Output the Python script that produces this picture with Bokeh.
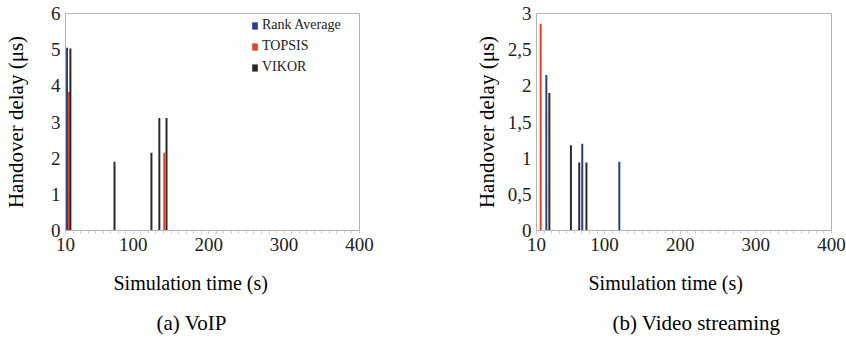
from bokeh.plotting import figure
from bokeh.models import (Range1d, FixedTicker, Legend, LegendItem, Title)
from bokeh.layouts import row
from bokeh.embed import file_html
from bokeh.resources import INLINE

# ---------------- data ----------------
series_names = ["Rank Average", "TOPSIS", "VIKOR"]
series_colors = ["#233f8c", "#e5421c", "#2b2724"]

x_ticks = [10, 100, 200, 300, 400]

# (a) VoIP
voip_rank_t = [12]
voip_rank_v = [5.05]
voip_topsis_t = [14.5, 141]
voip_topsis_v = [3.83, 2.15]
voip_vikor_t = [16.5, 75, 124, 134.5, 144]
voip_vikor_v = [5.03, 1.90, 2.15, 3.11, 3.11]
voip_y_ticks = [0, 1, 2, 3, 4, 5, 6]

# (b) Video streaming
video_rank_t = [23, 70.5, 119.5]
video_rank_v = [2.15, 1.20, 0.95]
video_topsis_t = [15.5]
video_topsis_v = [2.86]
video_vikor_t = [27, 55.5, 66.5, 76]
video_vikor_v = [1.90, 1.18, 0.94, 0.94]
video_y_ticks = [0, 0.5, 1, 1.5, 2, 2.5, 3]

SERIF = "Liberation Serif"
AXIS_GRAY = "#b4b4b4"


def make_panel(width, border_left, border_right, border_top, border_bottom,
               ymax, yticks, series, caption, xlabel_offset, caption_offset,
               ylabel_standoff, legend=False):
    p = figure(width=width, height=344, output_backend="svg", toolbar_location=None,
               x_range=Range1d(10, 400), y_range=Range1d(0, ymax),
               min_border_left=border_left, min_border_right=border_right,
               min_border_top=border_top, min_border_bottom=border_bottom)
    p.grid.visible = False
    p.outline_line_color = AXIS_GRAY
    p.outline_line_width = 1
    p.background_fill_color = "white"
    p.border_fill_color = "white"

    renderers = []
    for (ts, vs), color in zip(series, series_colors):
        r = p.vbar(x=ts, top=vs, width=2.6, bottom=0, fill_color=color,
                   line_color=None)
        renderers.append(r)

    # x axis
    xa = p.xaxis[0]
    xa.ticker = FixedTicker(ticks=x_ticks, minor_ticks=list(range(10, 401, 10)))
    xa.axis_line_color = AXIS_GRAY
    xa.major_tick_line_color = "#c8c8c8"
    xa.minor_tick_line_color = "#c8c8c8"
    xa.major_tick_in = 0
    xa.major_tick_out = 3
    xa.minor_tick_in = 0
    xa.minor_tick_out = 3
    xa.major_label_standoff = 4
    xa.major_label_text_font = SERIF
    xa.major_label_text_font_size = "19px"
    xa.major_label_text_color = "#222222"

    # y axis
    ya = p.yaxis[0]
    ya.ticker = FixedTicker(ticks=yticks)
    ya.major_label_overrides = {t: (str(t).replace(".", ",") if t != int(t) else str(int(t)))
                                for t in yticks}
    ya.axis_line_color = AXIS_GRAY
    ya.major_tick_line_color = None
    ya.minor_tick_line_color = None
    ya.major_tick_in = 0
    ya.major_tick_out = 0
    ya.major_label_standoff = 5
    ya.major_label_text_font = SERIF
    ya.major_label_text_font_size = "19px"
    ya.major_label_text_color = "#222222"
    ya.axis_label = "Handover delay (μs)"
    ya.axis_label_text_font = SERIF
    ya.axis_label_text_font_size = "21px"
    ya.axis_label_text_font_style = "normal"
    ya.axis_label_text_color = "black"
    ya.axis_label_standoff = ylabel_standoff

    # spacer, x label and caption as titles below
    spacer = Title(text=" ", text_font_size="1px", vertical_align="top", standoff=0)
    t1 = Title(text="Simulation time (s)", align="left", offset=xlabel_offset,
               vertical_align="top",
               text_font=SERIF, text_font_size="20px", text_font_style="normal",
               text_color="black", standoff=30)
    t2 = Title(text=caption, align="left", offset=caption_offset,
               vertical_align="top",
               text_font=SERIF, text_font_size="21px", text_font_style="normal",
               text_color="black", standoff=0)
    p.add_layout(spacer, "below")
    p.add_layout(t1, "below")
    p.add_layout(t2, "below")

    if legend:
        items = [LegendItem(label=n, renderers=[r]) for n, r in zip(series_names, renderers)]
        lg = Legend(items=items, location=(186, 155), padding=0, margin=0,
                    spacing=5, glyph_width=7, glyph_height=9, label_height=9,
                    label_standoff=4, label_text_font=SERIF,
                    label_text_font_size="14px", label_text_color="#222222",
                    border_line_color=None, background_fill_alpha=0)
        p.add_layout(lg, "center")
    return p


left = make_panel(423, 65, 64, 13, 113, 6, voip_y_ticks,
                  [(voip_rank_t, voip_rank_v), (voip_topsis_t, voip_topsis_v),
                   (voip_vikor_t, voip_vikor_v)],
                  "(a) VoIP", 48, 91, 20, legend=True)
right = make_panel(423, 113, 15, 12, 114, 3, video_y_ticks,
                   [(video_rank_t, video_rank_v), (video_topsis_t, video_topsis_v),
                    (video_vikor_t, video_vikor_v)],
                   "(b) Video streaming", 52, 76, 6)

layout = row(left, right)
open("out.html", "w").write(file_html(layout, INLINE))
